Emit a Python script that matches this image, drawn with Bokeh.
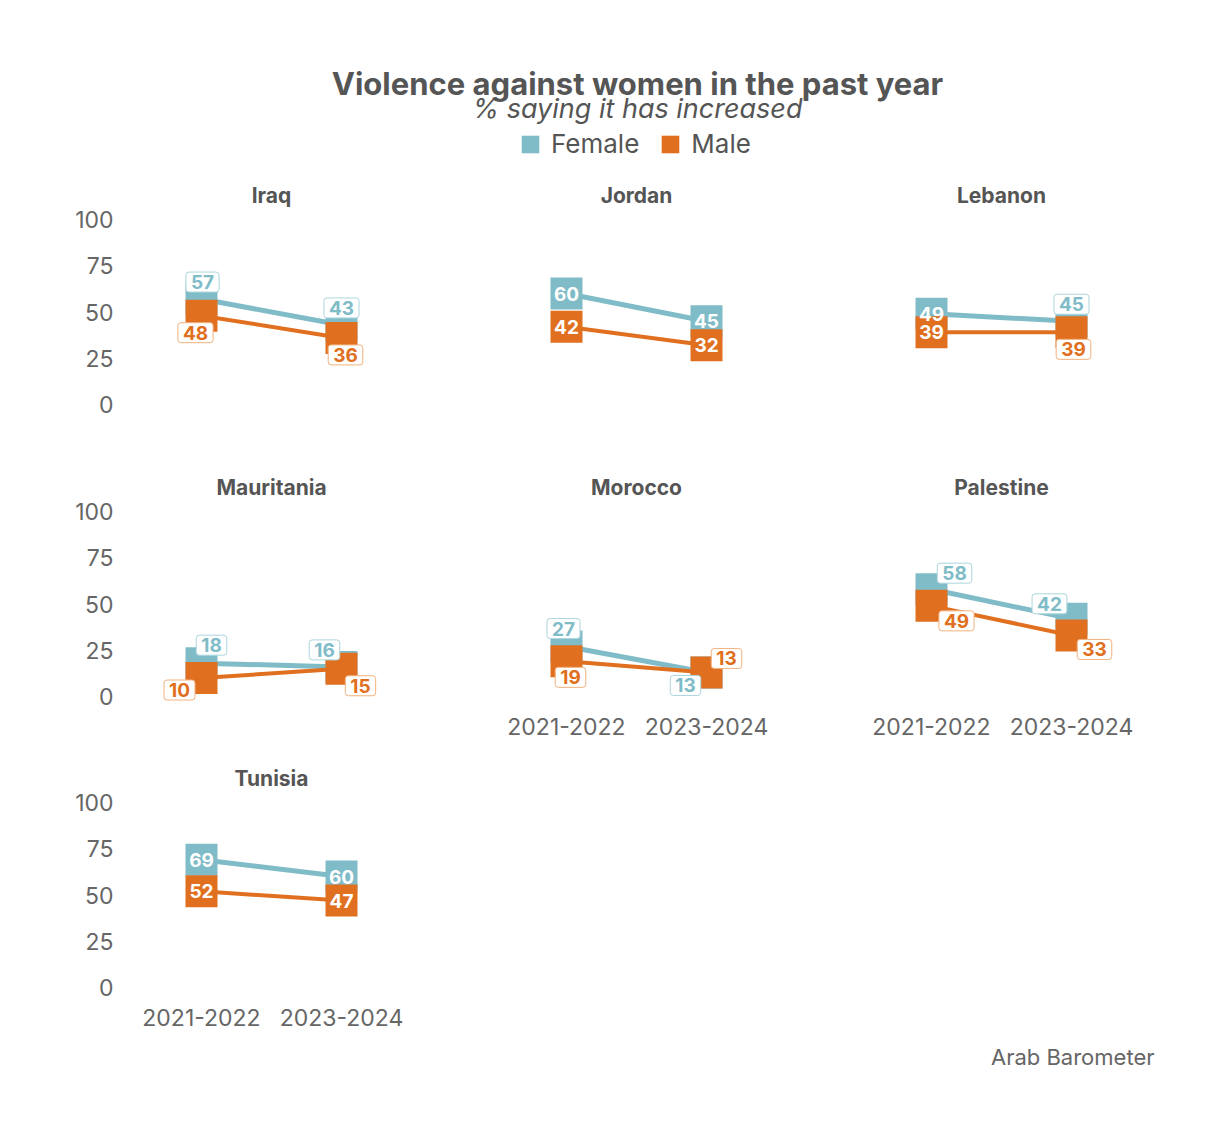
from bokeh.plotting import figure
from bokeh.layouts import column, row
from bokeh.models import (ColumnDataSource, FactorRange, Range1d, Legend, LegendItem,
                          FixedTicker)
from bokeh.core.properties import value
from bokeh.embed import file_html
from bokeh.resources import INLINE

# ---------------- data ----------------
countries = ["Iraq", "Jordan", "Lebanon", "Mauritania", "Morocco", "Palestine", "Tunisia"]
waves = ["2021-2022", "2023-2024"]
female_2021 = [57, 60, 49, 18, 27, 58, 69]
female_2023 = [43, 45, 45, 16, 13, 42, 60]
male_2021 = [48, 42, 39, 10, 19, 49, 52]
male_2023 = [36, 32, 39, 15, 13, 33, 47]
y_ticks = [0, 25, 50, 75, 100]
series_names = ["Female", "Male"]
title_text = "Violence against women in the past year"
subtitle_text = "% saying it has increased"
source_text = "Arab Barometer"

# ---------------- label placement (style, not data) ----------------
# None -> label inside the marker; (dx, dy) -> boxed label shifted by pixels
label_layout = {
    "Iraq":       {"Female": [(1, -17), (0, -17)],   "Male": [(-6, 17), (4, 17)]},
    "Jordan":     {"Female": [None, None],           "Male": [None, None]},
    "Lebanon":    {"Female": [None, (0, -17)],       "Male": [None, (2, 17)]},
    "Mauritania": {"Female": [(10, -18), (-17, -17)], "Male": [(-22, 12), (19, 17)]},
    "Morocco":    {"Female": [(-3, -18), (-21, 13)], "Male": [(4, 16), (20, -14)]},
    "Palestine":  {"Female": [(23, -16), (-22, -15)], "Male": [(25, 15), (23, 14)]},
    "Tunisia":    {"Female": [None, None],           "Male": [None, None]},
}

FONT = "Inter"
TEAL = "#80bcc8"
ORANGE = "#e07020"
TEAL_BORDER = "#acd5dd"
ORANGE_BORDER = "#f2b27e"
TITLE_COLOR = "#555555"
TICK_COLOR = "#666666"

FRAME_W = 280
FRAME_H = 206
TOP_B = 40
Y_LO = -(416 - 405) / 1.85
Y_HI = Y_LO + FRAME_H / 1.85
SHIFT = 7


def make_panel(i, col, rowi, show_x):
    name = countries[i]
    left = 124 + SHIFT if col == 0 else 85
    right = 66 if col == 2 else 0
    width = left + FRAME_W + right
    height = 292 if rowi == 0 else 291
    p = figure(width=width, height=height,
               x_range=FactorRange(factors=waves, range_padding=0),
               y_range=Range1d(Y_LO, Y_HI),
               output_backend="svg", toolbar_location=None, tools="",
               min_border_left=left, min_border_right=right,
               min_border_top=TOP_B, min_border_bottom=height - TOP_B - FRAME_H)
    p.outline_line_color = None
    p.xgrid.visible = False
    p.ygrid.visible = False
    p.background_fill_color = "white"
    p.border_fill_color = "white"

    p.title.text = name
    p.title.align = "center"
    p.title.text_font = FONT
    p.title.text_font_style = "bold"
    p.title.text_font_size = "21px"
    p.title.text_color = TITLE_COLOR
    p.title.standoff = 4

    for ax in (p.xaxis[0], p.yaxis[0]):
        ax.axis_line_color = None
        ax.major_tick_line_color = None
        ax.minor_tick_line_color = None
        ax.major_tick_out = 0
        ax.minor_tick_out = 0
        ax.major_tick_in = 0
        ax.minor_tick_in = 0
        ax.major_label_text_font = FONT
        ax.major_label_text_font_size = "23px"
        ax.major_label_text_color = TICK_COLOR
    p.yaxis.ticker = FixedTicker(ticks=y_ticks)
    p.yaxis.major_label_standoff = 18
    p.xaxis.major_label_standoff = 10
    p.yaxis.visible = (col == 0)
    p.xaxis.visible = show_x

    f = [female_2021[i], female_2023[i]]
    m = [male_2021[i], male_2023[i]]

    p.line(waves, f, line_color=TEAL, line_width=5)
    p.scatter(waves, f, marker="square", size=32, fill_color=TEAL, line_color=None)
    p.line(waves, m, line_color=ORANGE, line_width=4)
    p.scatter(waves, m, marker="square", size=32, fill_color=ORANGE, line_color=None)

    inside = dict(x=[], y=[], text=[])
    boxed = {s: dict(x=[], y=[], text=[], dx=[], dy=[]) for s in series_names}
    for s, vals in zip(series_names, (f, m)):
        for k, v in enumerate(vals):
            lay = label_layout[name][s][k]
            if lay is None:
                inside["x"].append(waves[k]); inside["y"].append(v); inside["text"].append(str(v))
            else:
                b = boxed[s]
                b["x"].append(waves[k]); b["y"].append(v); b["text"].append(str(v))
                b["dx"].append(lay[0]); b["dy"].append(lay[1])

    p.text(x="x", y="y", text="text", source=ColumnDataSource(inside),
           text_color="white", text_font=value(FONT), text_font_style="bold",
           text_font_size="19px", text_align="center", text_baseline="middle")
    for s, tc, bc in (("Female", TEAL, TEAL_BORDER), ("Male", ORANGE, ORANGE_BORDER)):
        p.text(x="x", y="y", text="text", x_offset="dx", y_offset="dy",
               source=ColumnDataSource(boxed[s]),
               text_color=tc, text_font=value(FONT), text_font_style="bold",
               text_font_size="19px", text_align="center", text_baseline="middle",
               background_fill_color="white", border_line_color=bc,
               border_line_width=1, padding=(5, 3), border_radius=3)
    return p


TOTAL_W = 1207

# ---------------- header ----------------
HEAD_H = 162 + SHIFT
head = figure(width=TOTAL_W, height=HEAD_H, x_range=Range1d(0, TOTAL_W),
              y_range=Range1d(HEAD_H, 0), output_backend="svg",
              toolbar_location=None, tools="", min_border=0)
head.axis.visible = False
head.grid.visible = False
head.outline_line_color = None
head.text(x=[637], y=[83], text=[title_text], text_font=value(FONT),
          text_font_style="bold", text_font_size="31px", text_color=TITLE_COLOR,
          text_align="center", text_baseline="middle")
head.text(x=[637], y=[108], text=[subtitle_text], text_font=value(FONT),
          text_font_style="italic", text_font_size="27px", text_color=TITLE_COLOR,
          text_align="center", text_baseline="middle")
# legend proxies (kept outside the visible range)
r_f = head.quad(left=[-50], right=[-40], top=[-50], bottom=[-40], fill_color=TEAL, line_color=None)
r_m = head.quad(left=[-50], right=[-40], top=[-50], bottom=[-40], fill_color=ORANGE, line_color=None)
legend = Legend(items=[LegendItem(label=series_names[0], renderers=[r_f]),
                       LegendItem(label=series_names[1], renderers=[r_m])],
                orientation="horizontal", location=(519, 10),
                glyph_width=22, glyph_height=22, label_standoff=10, spacing=20,
                padding=0, margin=0, border_line_color=None,
                background_fill_alpha=0,
                label_text_font=FONT, label_text_font_size="26px",
                label_text_color=TITLE_COLOR)
head.add_layout(legend, "center")

# ---------------- panels ----------------
p_iraq = make_panel(0, 0, 0, False)
p_jor = make_panel(1, 1, 0, False)
p_leb = make_panel(2, 2, 0, False)
p_mau = make_panel(3, 0, 1, False)
p_mor = make_panel(4, 1, 1, True)
p_pal = make_panel(5, 2, 1, True)
p_tun = make_panel(6, 0, 2, True)

# ---------------- footer ----------------
FOOT_H = 40
foot = figure(width=TOTAL_W, height=FOOT_H, x_range=Range1d(0, TOTAL_W),
              y_range=Range1d(FOOT_H, 0), output_backend="svg",
              toolbar_location=None, tools="", min_border=0)
foot.axis.visible = False
foot.grid.visible = False
foot.outline_line_color = None
foot.text(x=[1154], y=[13], text=[source_text], text_font=value(FONT),
          text_font_size="22px", text_color=TICK_COLOR,
          text_align="right", text_baseline="middle")

layout = column(head,
                row(p_iraq, p_jor, p_leb),
                row(p_mau, p_mor, p_pal),
                row(p_tun),
                foot)

open("out.html", "w").write(file_html(layout, INLINE))
